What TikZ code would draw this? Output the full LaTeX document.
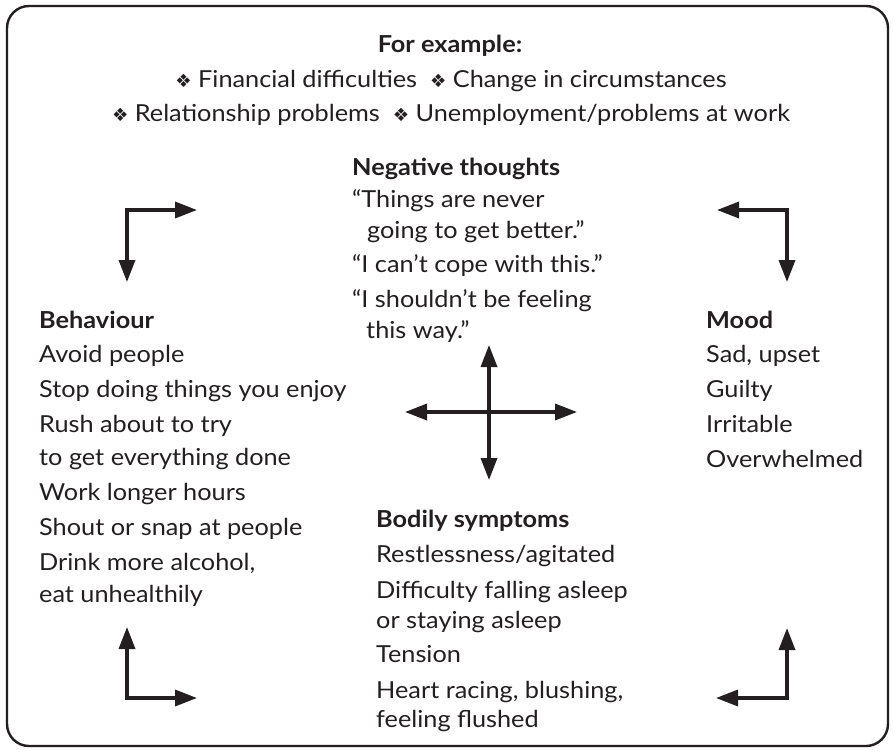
\documentclass[tikz,border=0pt]{standalone}
\usepackage{fontspec}
\setmainfont[FakeStretch=1.08]{Lato}
\newfontfamily\diafont[Scale=0.78]{DejaVu Sans}
\usetikzlibrary{arrows.meta}

\definecolor{ink}{HTML}{231F20}
\newcommand{\exmark}{{\diafont ❖}}

\tikzset{
    txt/.style={anchor=base west, inner sep=0pt, text=ink, font=\fontsize{23.5}{28}\selectfont},
    head/.style={txt, font=\fontsize{23.5}{28}\selectfont\bfseries},
    flow/.style={{Triangle[length=22bp,width=16bp]}-{Triangle[length=22bp,width=16bp]}, line width=3.4bp, draw=ink},
    frame/.style={draw=ink, line width=2.4bp, rounded corners=22bp},
}

\begin{document}
\begin{tikzpicture}[x=1bp, y=-1bp]
    \useasboundingbox (0,0) rectangle (894,752);
    % Frame
    \draw[frame] (7,6) rectangle (888,746);

    % Examples
    \node[head, anchor=base] (ex) at (450,53) {For example:};
    \node[txt, anchor=base] (ex1) at (451,88) {\exmark\ Financial difficulties\ \ \exmark\ Change in circumstances};
    \node[txt, anchor=base] (ex2) at (451,121) {\exmark\ Relationship problems\ \ \exmark\ Unemployment/problems at work};

    % Negative thoughts
    \node[head] (thoughts) at (352,175) {Negative thoughts};
    \foreach \x/\y/\t [count=\i] in {352/207/{“Things are never}, 367/238/{going to get better.”},
        352/272/{“I can’t cope with this.”}, 352/307/{“I shouldn’t be feeling}, 366/338/{this way.”}}
        \node[txt] (thought\i) at (\x,\y) {\t};

    % Behaviour
    \node[head] (behaviour) at (39,328) {Behaviour};
    \foreach \y/\t [count=\i] in {362/{Avoid people}, 397/{Stop doing things you enjoy}, 432/{Rush about to try},
        465/{to get everything done}, 500/{Work longer hours}, 535/{Shout or snap at people},
        570/{Drink more alcohol,}, 602/{eat unhealthily}}
        \node[txt] (behaviour\i) at (39,\y) {\t};

    % Mood
    \node[head] (mood) at (706,328) {Mood};
    \foreach \y/\t [count=\i] in {362/{Sad, upset}, 397/{Guilty}, 432/{Irritable}, 467/{Overwhelmed}}
        \node[txt] (mood\i) at (706,\y) {\t};

    % Bodily symptoms
    \node[head] (body) at (376,527) {Bodily symptoms};
    \foreach \y/\t [count=\i] in {562/{Restlessness/agitated}, 598/{Difficulty falling asleep}, 628/{or staying asleep},
        662/{Tension}, 698/{Heart racing, blushing,}, 727/{feeling flushed}}
        \node[txt] (body\i) at (376,\y) {\t};

    % Corner arrows
    \foreach \n/\x/\y/\dx/\dy in {tl/127/210/70/72, tr/787/210/-70/72, bl/127/698/70/-71, br/787/698/-71/-70} {
        \coordinate (\n) at (\x,\y);
        \draw[flow] ([xshift=\dx bp]\n) -- (\n) -- ([yshift=-\dy bp]\n);
    }

    % Centre cross
    \coordinate (mid) at (489,412);
    \draw[flow] ([xshift=-84bp]mid) -- ([xshift=88bp]mid);
    \draw[flow] ([yshift=67bp]mid) -- ([yshift=-68bp]mid);
\end{tikzpicture}
\end{document}
